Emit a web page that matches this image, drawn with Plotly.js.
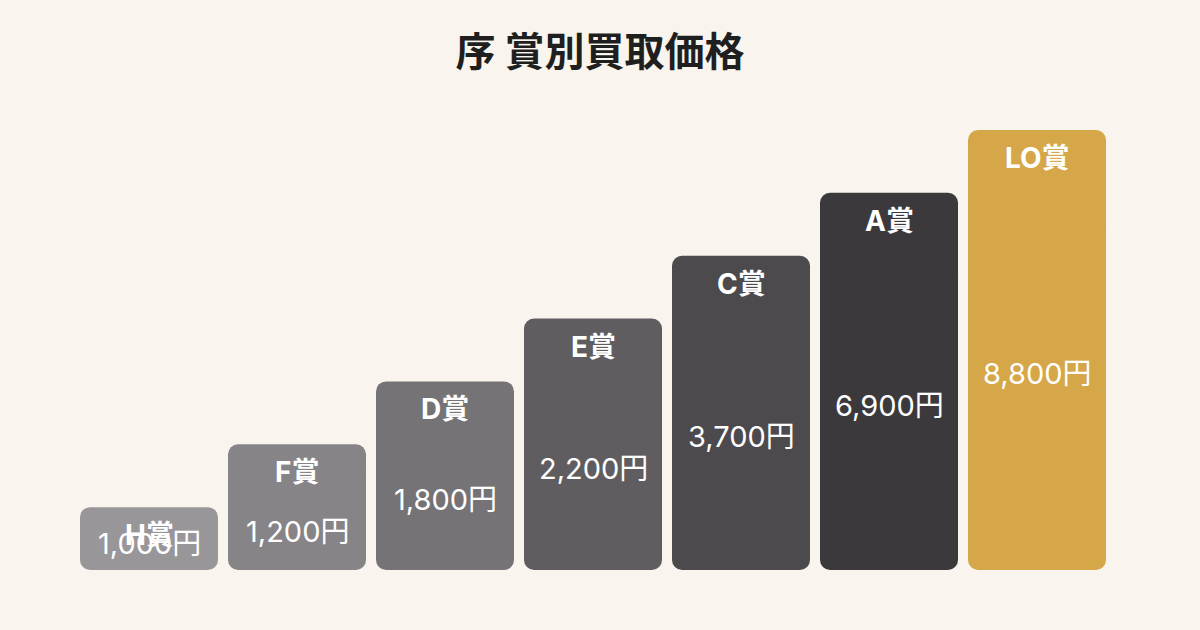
<!DOCTYPE html>
<html>
<head>
<meta charset="utf-8">
<script src="https://cdn.plot.ly/plotly-3.0.1.min.js"></script>
<style>
  html, body { margin: 0; padding: 0; background: #f9f5ee; }
  #chart { width: 1200px; height: 630px; }
</style>
</head>
<body>
<div id="chart"></div>
<script>
const prizes = ['H賞', 'F賞', 'D賞', 'E賞', 'C賞', 'A賞', 'LO賞'];
const prices = [1000, 1200, 1800, 2200, 3700, 6900, 8800];
const levels = [1, 2, 3, 4, 5, 6, 7];
const colors = ['#99969a', '#878488', '#767377', '#605d61', '#4d4a4e', '#3c393d', '#d5a748'];

const titleFont = '"Noto Sans CJK JP", sans-serif';
const labelFont = 'Inter, "Noto Sans CJK JP", sans-serif';
const unit = 63; // px per level step

// each bar is two overlapping pieces so both ends get rounded
const upper = {
  type: 'bar',
  x: prizes,
  base: levels.map(v => v * 0.2),
  y: levels.map(v => v * 0.8),
  marker: {color: colors, line: {width: 0}},
  hoverinfo: 'skip',
};
const lower = {
  type: 'bar',
  x: prizes,
  base: levels.map(v => v * 0.8),
  y: levels.map(v => -v * 0.8),
  marker: {color: colors, line: {width: 0}},
  hoverinfo: 'skip',
};

const annotations = [];
prizes.forEach((p, i) => {
  annotations.push({
    x: p, y: levels[i], xref: 'x', yref: 'y',
    text: '<b>' + p + '</b>',
    showarrow: false,
    yanchor: 'middle',
    yshift: -28,
    font: {family: labelFont, size: 28, color: '#ffffff'},
  });
  const shift = Math.max(levels[i] * unit / 2 - 24, 27);
  annotations.push({
    x: p, y: 0, xref: 'x', yref: 'y',
    text: prices[i].toLocaleString('en-US') + '円',
    showarrow: false,
    yanchor: 'middle',
    yshift: shift,
    font: {family: labelFont, size: 29, color: '#ffffff'},
  });
});

Plotly.newPlot('chart', [upper, lower], {
  width: 1200,
  height: 630,
  title: {
    text: '<b>序 賞別買取価格</b>',
    font: {family: titleFont, size: 40, color: '#1f1f1f'},
    x: 0.5,
    xanchor: 'center',
    y: 1 - 52 / 630,
    yref: 'container',
    yanchor: 'middle',
  },
  margin: {l: 75, r: 89, t: 130, b: 60},
  paper_bgcolor: '#f9f5ee',
  plot_bgcolor: '#f9f5ee',
  barmode: 'overlay',
  bargap: 10 / 148,
  barcornerradius: 10,
  showlegend: false,
  xaxis: {
    showticklabels: false,
    showgrid: false,
    zeroline: false,
    showline: false,
    ticks: '',
  },
  yaxis: {
    range: [0, 7],
    showticklabels: false,
    showgrid: false,
    zeroline: false,
    showline: false,
  },
  annotations: annotations,
}, {displayModeBar: false, staticPlot: true});
</script>
</body>
</html>
